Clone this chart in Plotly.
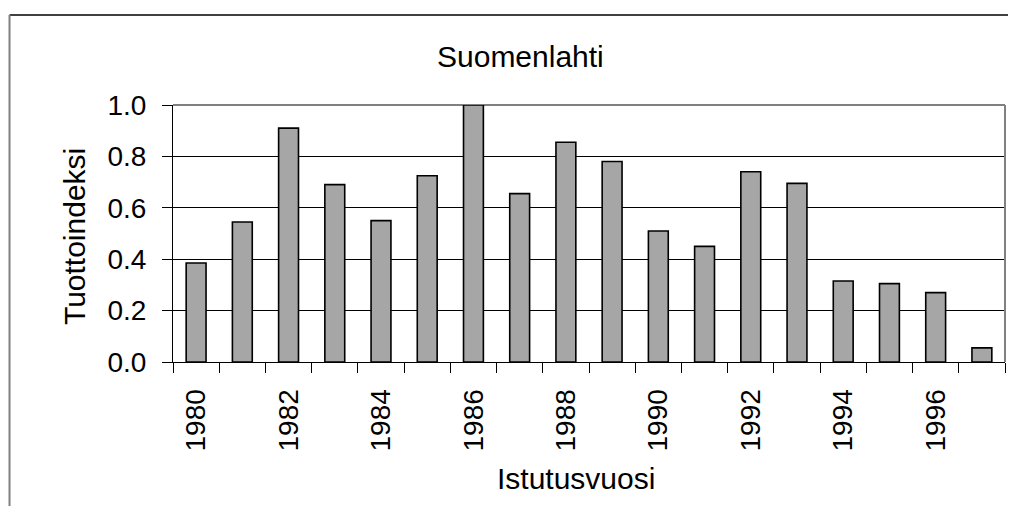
import plotly.graph_objects as go

# planting years and yield index
years = list(range(1980, 1998))
index_values = [0.385, 0.545, 0.91, 0.69, 0.55, 0.725, 1.0, 0.655, 0.855,
                0.78, 0.51, 0.45, 0.74, 0.695, 0.315, 0.305, 0.27, 0.055]
year_ticks = [1980, 1982, 1984, 1986, 1988, 1990, 1992, 1994, 1996]
y_ticks = [0.0, 0.2, 0.4, 0.6, 0.8, 1.0]

FONT = "Liberation Sans, Arial, Helvetica, sans-serif"

fig = go.Figure(
    go.Bar(
        x=years,
        y=index_values,
        width=0.43,
        marker=dict(color="#a6a6a6", line=dict(color="black", width=1.6)),
        cliponaxis=False,
    )
)

# page body adds an 8px offset, so the figure is 8px smaller than the window
fig.update_layout(
    width=1008,
    height=498,
    margin=dict(l=165, r=11, t=97, b=144),
    paper_bgcolor="white",
    plot_bgcolor="white",
    showlegend=False,
    font=dict(family=FONT, color="black"),
    xaxis=dict(
        range=[1979.5, 1997.5],
        tickmode="array",
        tickvals=year_ticks,
        ticktext=[str(y) for y in year_ticks],
        tickangle=-90,
        ticks="",
        ticklabelstandoff=15,
        tickfont=dict(size=28),
        showgrid=False,
        zeroline=False,
        showline=True,
        linecolor="black",
        linewidth=1,
        minor=dict(ticks="outside", ticklen=10, tickcolor="black", tickwidth=1,
                   tick0=1979.5, dtick=1, showgrid=False),
    ),
    yaxis=dict(
        range=[0, 1.0],
        tickmode="array",
        tickvals=y_ticks,
        ticktext=[f"{v:.1f}" for v in y_ticks],
        ticks="outside",
        ticklen=10,
        tickcolor="black",
        ticklabelstandoff=10,
        tickfont=dict(size=28),
        showgrid=True,
        gridcolor="black",
        gridwidth=1,
        zeroline=False,
        showline=True,
        linecolor="black",
        linewidth=1,
    ),
)

# gray top and right border of the plot area (under the bars)
fig.add_shape(type="line", xref="paper", yref="paper", x0=0, x1=1, y0=1, y1=1,
              line=dict(color="#808080", width=2), layer="below")
fig.add_shape(type="line", xref="paper", yref="paper", x0=1, x1=1, y0=0, y1=1,
              line=dict(color="#808080", width=2))

# outer chart frame (cut off at right and bottom)
fig.add_shape(type="line", xref="paper", yref="paper", x0=-0.1965, x1=1.05, y0=1.35, y1=1.35,
              line=dict(color="black", width=1.5))
fig.add_shape(type="line", xref="paper", yref="paper", x0=-0.1965, x1=-0.1965, y0=1.35, y1=-0.7,
              line=dict(color="#808080", width=2))

fig.add_annotation(text="Suomenlahti", xref="paper", yref="paper", x=0.418, y=1.19,
                   xanchor="center", yanchor="middle", showarrow=False,
                   font=dict(size=30))
fig.add_annotation(text="Tuottoindeksi", xref="paper", yref="paper", x=-0.119, y=0.49,
                   xanchor="center", yanchor="middle", textangle=-90, showarrow=False,
                   font=dict(size=30))
fig.add_annotation(text="Istutusvuosi", xref="paper", yref="paper", x=0.484, y=-0.455,
                   xanchor="center", yanchor="middle", showarrow=False,
                   font=dict(size=30))

fig.write_html("out.html")
